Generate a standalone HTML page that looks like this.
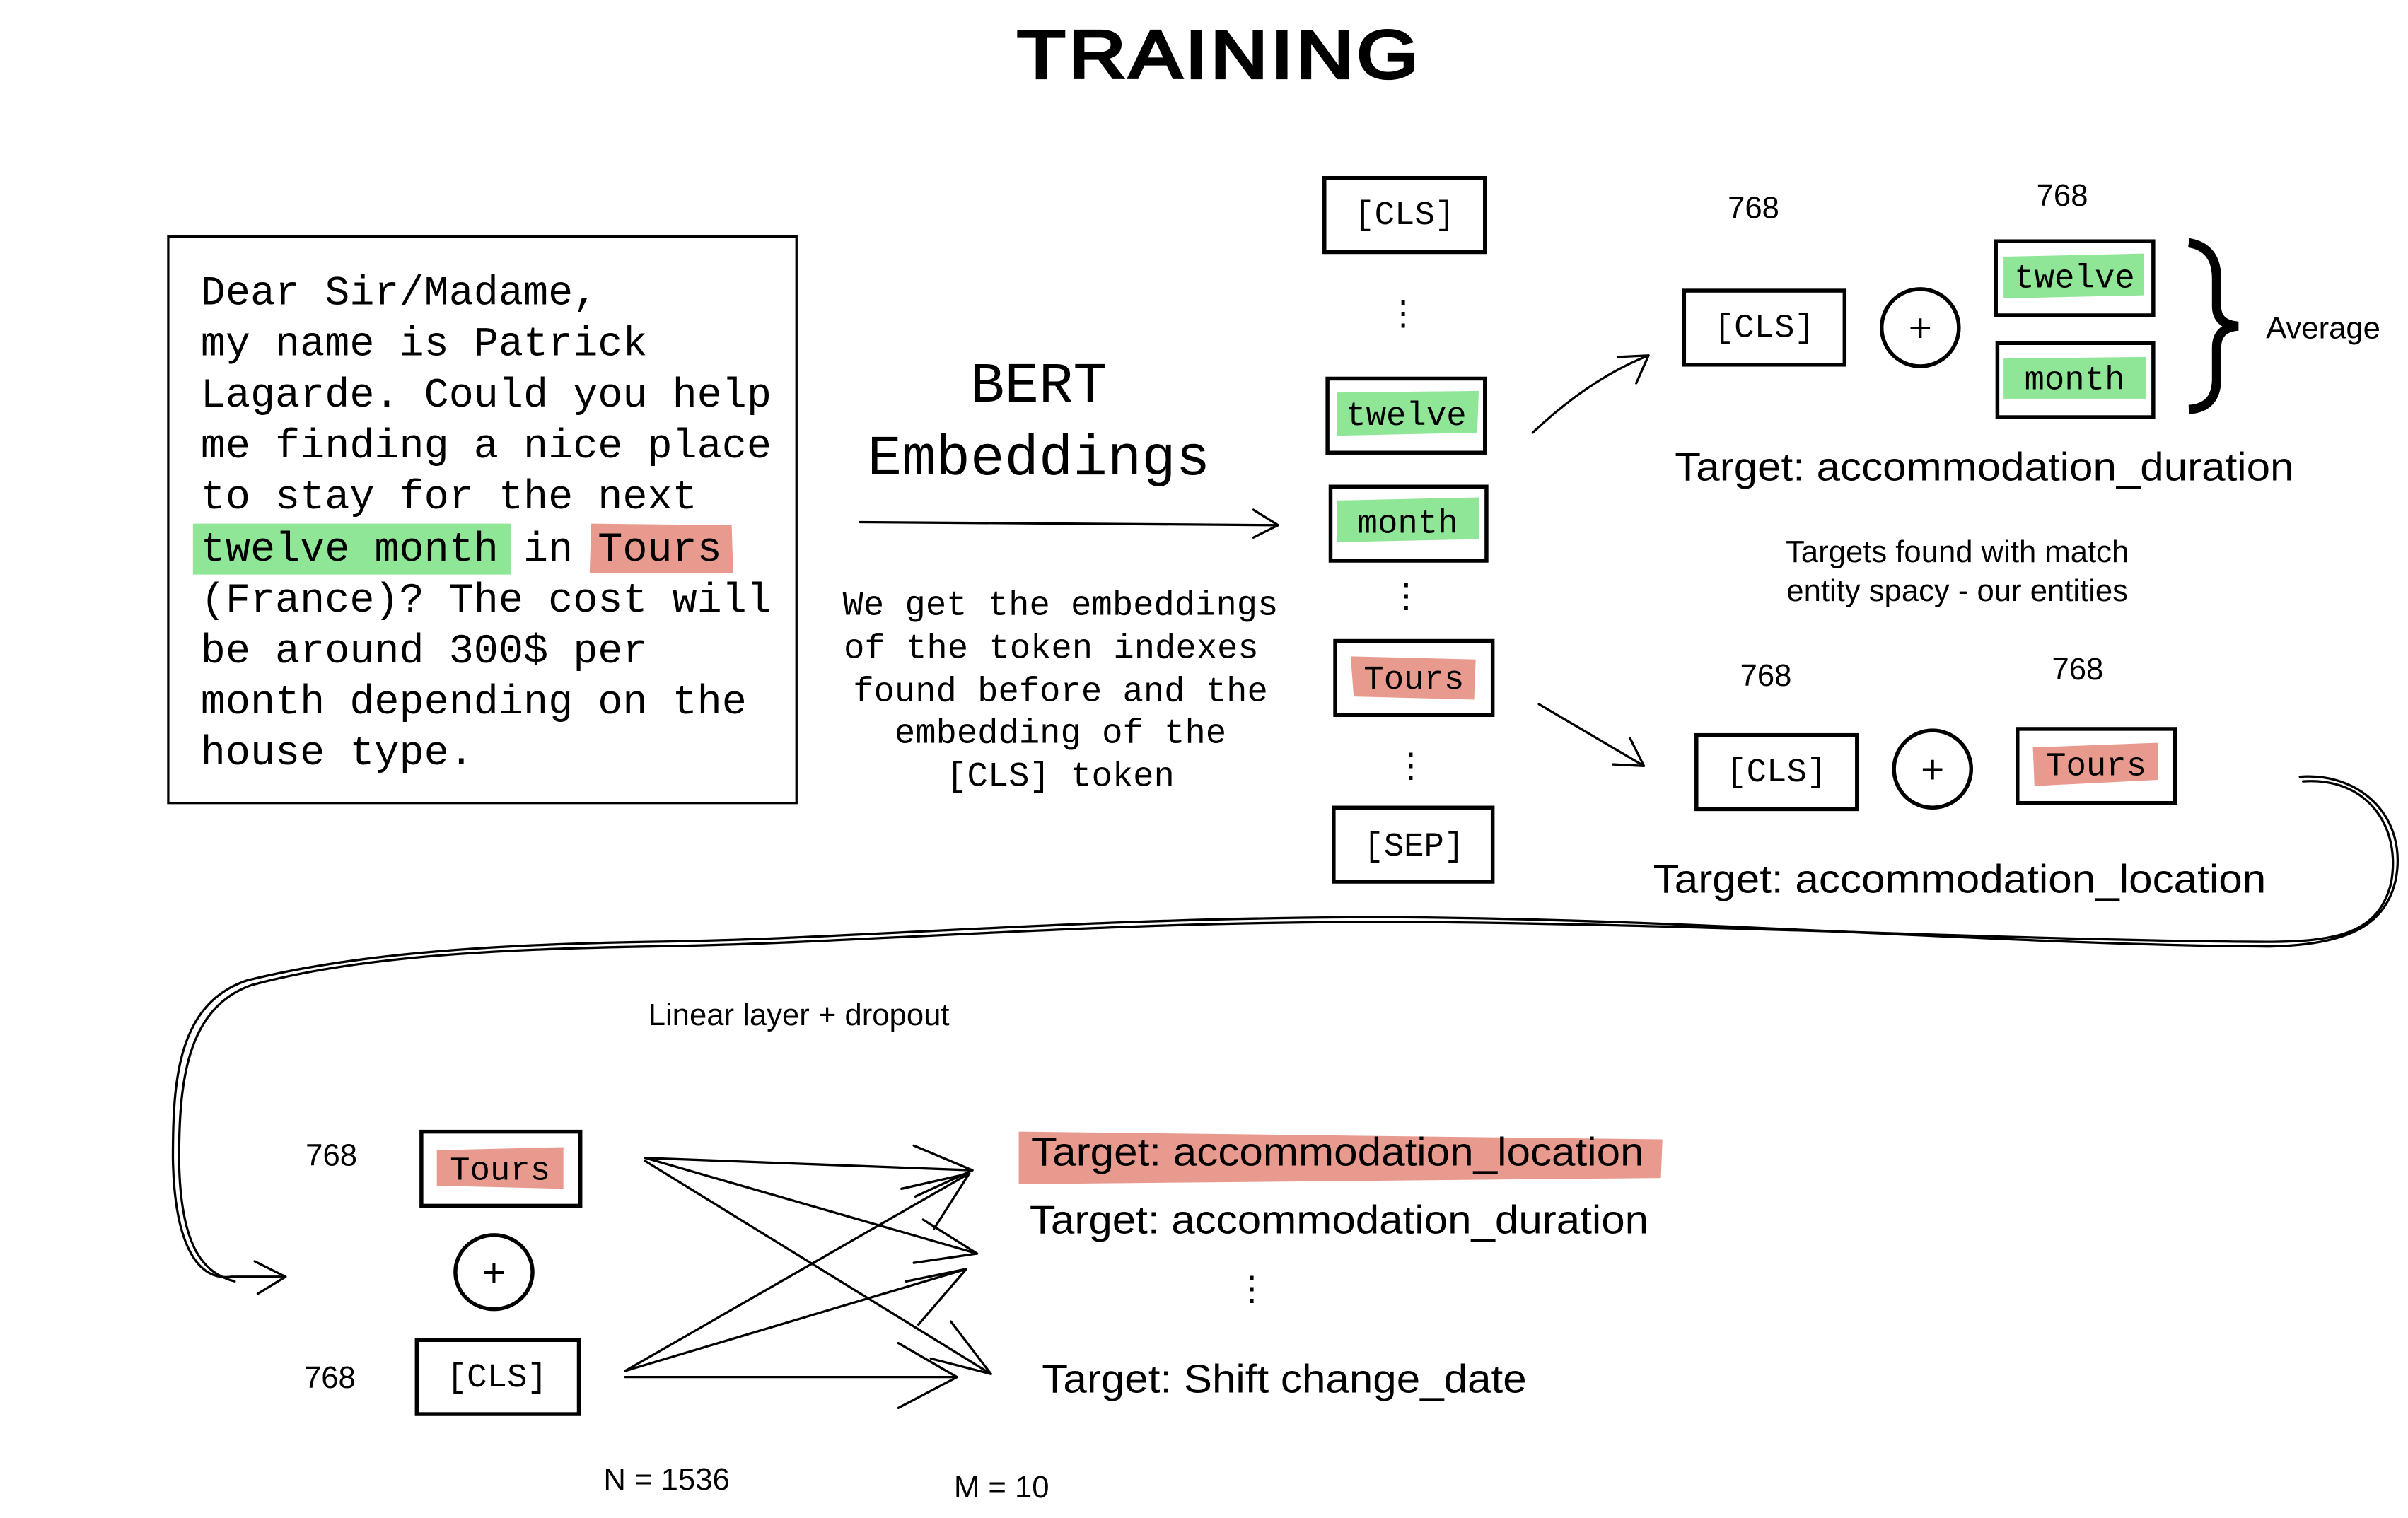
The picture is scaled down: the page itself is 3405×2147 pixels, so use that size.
<!DOCTYPE html>
<html><head><meta charset="utf-8"><style>
html,body{margin:0;padding:0;background:#fff;}
svg{display:block;}
.m{font-family:"Liberation Mono",monospace;fill:#000;}
.s{font-family:"Liberation Sans",sans-serif;fill:#000;}
.b{fill:none;stroke:#000;stroke-width:2.5;}
.l{fill:none;stroke:#000;stroke-width:1.5;stroke-linecap:round;stroke-linejoin:round;}
</style></head><body>
<svg width="3405" height="2147" viewBox="0 0 1560 983" xmlns="http://www.w3.org/2000/svg">
<rect width="1560" height="983" fill="#fff"/>
<!-- title -->
<text x="790" y="50" text-anchor="middle" class="s" font-size="44" stroke="#000" stroke-width="2" letter-spacing="2" textLength="262" lengthAdjust="spacingAndGlyphs">TRAINING</text>

<!-- text box -->
<rect x="109" y="153" width="407" height="367" fill="none" stroke="#000" stroke-width="1.5"/>
<polygon points="125,339 331,339 331,372 125,372" fill="#8ee696"/>
<polygon points="383,339 474,340 475,371 382,371" fill="#e89a8e"/>
<g class="m" font-size="26.8">
<text x="130" y="197">Dear Sir/Madame,</text>
<text x="130" y="230">my name is Patrick</text>
<text x="130" y="263">Lagarde. Could you help</text>
<text x="130" y="296">me finding a nice place</text>
<text x="130" y="329">to stay for the next</text>
<text x="130" y="363">twelve month in Tours</text>
<text x="130" y="396">(France)? The cost will</text>
<text x="130" y="429">be around 300$ per</text>
<text x="130" y="462">month depending on the</text>
<text x="130" y="495">house type.</text>
</g>

<!-- BERT -->
<text x="673" y="260" text-anchor="middle" class="m" font-size="37">BERT</text>
<text x="673" y="307" text-anchor="middle" class="m" font-size="37">Embeddings</text>
<path d="M557,338 L828,340 M812,330 L828,340 L812,348" class="l" stroke-width="2.5"/>
<g class="m" font-size="22.4" text-anchor="middle">
<text x="687" y="398">We get the embeddings</text>
<text x="681" y="426">of the token indexes</text>
<text x="687" y="454">found before and the</text>
<text x="687" y="481">embedding of the</text>
<text x="687" y="509">[CLS] token</text>
</g>

<!-- token column -->
<rect x="858" y="115" width="104" height="48" class="b"/>
<text x="910" y="145" text-anchor="middle" class="m" font-size="21.7">[CLS]</text>
<text x="909" y="210" text-anchor="middle" class="s" font-size="22">⋮</text>
<rect x="860" y="245" width="102" height="48" class="b"/>
<polygon points="866,254 958,253 957,280 866,282" fill="#8ee696"/>
<text x="911" y="275" text-anchor="middle" class="m" font-size="21.7">twelve</text>
<rect x="862" y="315" width="101" height="48" class="b"/>
<polygon points="866,324 958,322 958,349 866,351" fill="#8ee696"/>
<text x="912" y="345" text-anchor="middle" class="m" font-size="21.7">month</text>
<text x="911" y="393" text-anchor="middle" class="s" font-size="22">⋮</text>
<rect x="865" y="415" width="102" height="48" class="b"/>
<polygon points="875,425 956,427 955,453 877,451" fill="#e89a8e"/>
<text x="916" y="446" text-anchor="middle" class="m" font-size="21.7">Tours</text>
<text x="914" y="503" text-anchor="middle" class="s" font-size="22">⋮</text>
<rect x="864" y="523" width="103" height="48" class="b"/>
<text x="916" y="554" text-anchor="middle" class="m" font-size="21.7">[SEP]</text>

<!-- upper right group -->
<path d="M993,280 Q1030,245 1068,230 M1048,231 L1068,230 L1060,248" class="l" stroke-width="2"/>
<text x="1136" y="141" text-anchor="middle" class="s" font-size="20">768</text>
<text x="1336" y="133" text-anchor="middle" class="s" font-size="20">768</text>
<rect x="1091" y="188" width="104" height="48" class="b"/>
<text x="1143" y="218" text-anchor="middle" class="m" font-size="21.7">[CLS]</text>
<ellipse cx="1244" cy="212" rx="25" ry="25" class="b" stroke-width="2"/>
<text x="1244" y="221" text-anchor="middle" class="s" font-size="26">+</text>
<rect x="1293" y="156" width="102" height="48" class="b"/>
<polygon points="1298,166 1389,164 1389,191 1298,193" fill="#8ee696"/>
<text x="1344" y="186" text-anchor="middle" class="m" font-size="21.7">twelve</text>
<rect x="1294" y="222" width="101" height="48" class="b"/>
<polygon points="1298,232 1390,231 1390,258 1298,258" fill="#8ee696"/>
<text x="1344" y="252" text-anchor="middle" class="m" font-size="21.7">month</text>
<path d="M1418,157 Q1436,160 1436,180 L1436,198 Q1436,210 1450,211 Q1436,212 1436,225 L1436,245 Q1436,264 1418,265" fill="none" stroke="#000" stroke-width="6"/>
<text x="1468" y="219" class="s" font-size="20">Average</text>
<text x="1085" y="311" class="s" font-size="26" textLength="401" lengthAdjust="spacingAndGlyphs">Target: accommodation_duration</text>
<text x="1268" y="364" text-anchor="middle" class="s" font-size="20">Targets found with match</text>
<text x="1268" y="389" text-anchor="middle" class="s" font-size="20">entity spacy - our entities</text>

<!-- lower right group -->
<path d="M997,456 L1065,496 M1045,495 L1065,496 L1056,478" class="l" stroke-width="2"/>
<text x="1144" y="444" text-anchor="middle" class="s" font-size="20">768</text>
<text x="1346" y="440" text-anchor="middle" class="s" font-size="20">768</text>
<rect x="1099" y="476" width="104" height="48" class="b"/>
<text x="1151" y="506" text-anchor="middle" class="m" font-size="21.7">[CLS]</text>
<ellipse cx="1252" cy="498" rx="25" ry="25" class="b" stroke-width="2"/>
<text x="1252" y="507" text-anchor="middle" class="s" font-size="26">+</text>
<rect x="1307" y="472" width="102" height="48" class="b"/>
<polygon points="1317,484 1398,481 1398,505 1318,509" fill="#e89a8e"/>
<text x="1358" y="502" text-anchor="middle" class="m" font-size="21.7">Tours</text>
<text x="1071" y="578" class="s" font-size="26" textLength="397" lengthAdjust="spacingAndGlyphs">Target: accommodation_location</text>

<!-- long curve -->
<path d="M1490,503 C1530,500 1560,530 1552,570 C1545,600 1520,612 1470,613 C1300,612 1100,595 900,594 C700,594 560,608 420,610 C300,612 220,620 160,635 C115,650 112,700 112,750 C113,810 130,830 150,827 L185,827 M165,817 L185,827 L167,838" class="l"/>
<path d="M1492,506 C1533,503 1556,535 1549,572 C1541,604 1515,610 1468,610 C1300,609 1100,598 900,597 C700,597 560,611 420,613 C300,615 222,622 163,638 C120,653 116,703 116,752 C117,810 133,825 152,830" class="l" stroke-width="1"/>

<!-- bottom -->
<text x="420" y="664" class="s" font-size="20">Linear layer + dropout</text>
<text x="198" y="755" class="s" font-size="20">768</text>
<rect x="273" y="733" width="103" height="48" class="b"/>
<polygon points="283,745 365,743 365,770 283,768" fill="#e89a8e"/>
<text x="324" y="764" text-anchor="middle" class="m" font-size="21.7">Tours</text>
<ellipse cx="320" cy="824" rx="25" ry="24" class="b" stroke-width="2"/>
<text x="320" y="833" text-anchor="middle" class="s" font-size="26">+</text>
<text x="197" y="899" class="s" font-size="20">768</text>
<rect x="270" y="868" width="105" height="48" class="b"/>
<text x="322" y="898" text-anchor="middle" class="m" font-size="21.7">[CLS]</text>

<g class="l" stroke-width="1.3">
<path d="M418,750 L630,758 M592,742 L630,758 L593,775"/>
<path d="M418,750 L633,812 M598,790 L633,812 L592,818"/>
<path d="M418,752 L642,890 M616,856 L642,890 L603,880"/>
<path d="M405,888 L628,760 M584,770 L628,760 L605,796"/>
<path d="M405,888 L626,822 M587,830 L626,822 L595,858"/>
<path d="M405,892 L620,892 M582,870 L620,892 L582,912"/>
</g>
<polygon points="660,733 1077,738 1076,763 660,767" fill="#e89a8e"/>
<text x="668" y="755" class="s" font-size="26" textLength="397" lengthAdjust="spacingAndGlyphs">Target: accommodation_location</text>
<text x="667" y="799" class="s" font-size="26" textLength="401" lengthAdjust="spacingAndGlyphs">Target: accommodation_duration</text>
<text x="811" y="842" text-anchor="middle" class="s" font-size="22">⋮</text>
<text x="675" y="902" class="s" font-size="26" textLength="314" lengthAdjust="spacingAndGlyphs">Target: Shift change_date</text>
<text x="391" y="965" class="s" font-size="20">N = 1536</text>
<text x="618" y="970" class="s" font-size="20">M = 10</text>
</svg>
</body></html>
